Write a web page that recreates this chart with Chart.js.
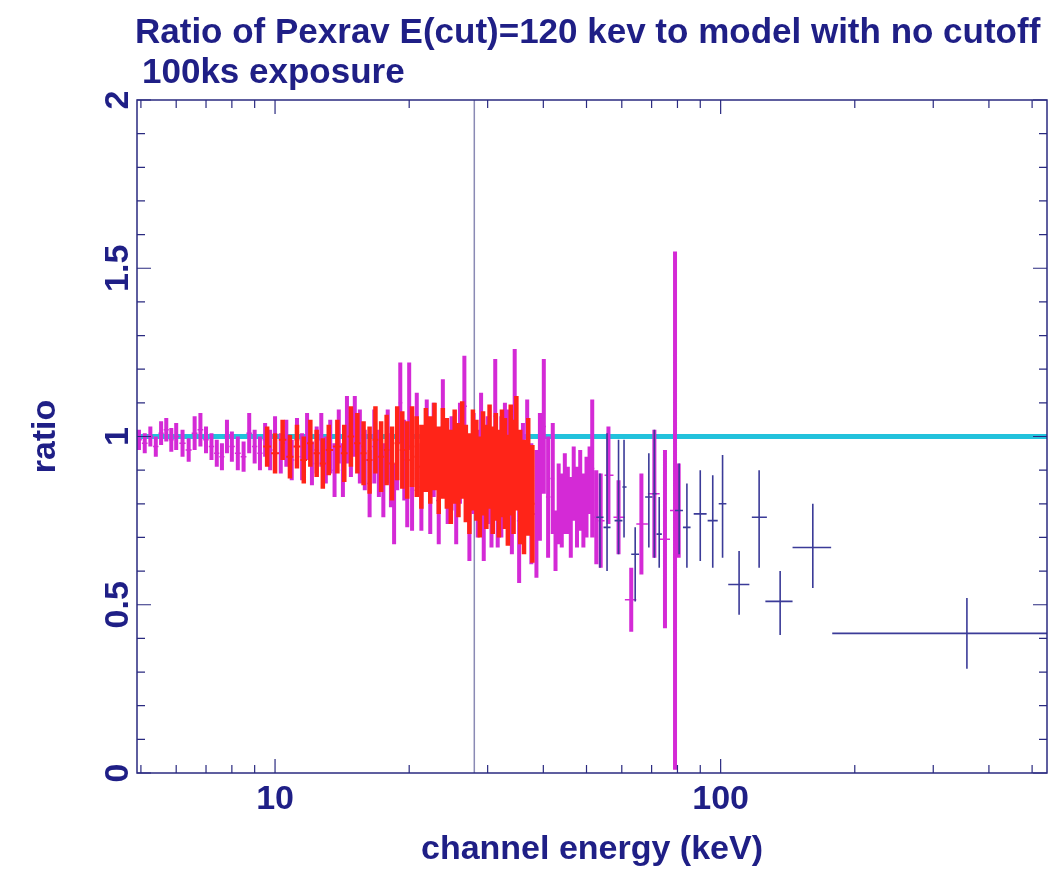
<!DOCTYPE html>
<html>
<head>
<meta charset="utf-8">
<script src="https://cdn.jsdelivr.net/npm/chart.js@4.4.1/dist/chart.umd.min.js"></script>
<style>
  html, body { margin: 0; padding: 0; background: #fff; }
  #wrap { width: 1062px; height: 872px; }
</style>
</head>
<body>
<div id="wrap"><canvas id="grafica" width="1062" height="872"></canvas></div>
<script>
// --- datos ---
const titulo1 = 'Ratio of Pexrav E(cut)=120 kev to model with no cutoff';
const titulo2 = '100ks exposure';

// serie magenta (keV, cociente, error)
const magE = [4.95,5.1,5.25,5.4,5.55,5.7,5.85,6.0,6.2,6.4,6.6,6.8,7.0,7.2,7.4,7.6,7.8,8.0,8.25,8.5,8.75,9.0,9.25,9.5,9.75,10.0,10.3,10.6,10.9,11.2,11.5,11.8,12.1,12.4,12.7,13.0,13.3,13.6,13.9,
  14.2,14.5,14.8,15.1,15.5,15.9,16.3,16.7,17.1,17.5,17.9,18.2,18.5,18.8,19.1,19.5,19.8,20.0,20.3,20.8,21.3,21.9,22.3,22.7,23.3,23.8,24.4,24.9,25.5,26.0,26.6,27.3,27.9,28.5,29.0,29.4,30.0,30.6,31.2,31.6,32.2,32.8,33.4,34.0,34.5,35.3,36.0,36.8,37.6,38.6,39.3,40.1,
  41.0,42.0,42.6,43.3,44.0,44.7,45.4,46.1,46.8,47.6,48.4,49.2,50.0,50.8,51.5,52.6,53.8,56.0,59.0,63.0,66.4,71.0,75.0,79.0,80.5];
const magY = [0.99,0.98,1.00,0.97,1.01,1.02,0.99,1.00,0.98,0.96,1.01,1.02,0.99,0.97,0.95,0.94,1.00,0.97,0.95,0.94,1.01,0.97,0.95,0.99,0.96,1.00,0.95,0.98,0.93,0.99,0.94,1.00,0.92,0.96,0.99,0.93,0.97,0.90,1.00,
  0.90,1.02,0.96,1.03,0.97,0.93,0.86,0.97,0.92,0.87,0.97,0.90,0.80,0.95,1.10,0.93,0.85,1.09,0.84,1.00,0.85,0.98,0.84,0.96,0.81,1.03,0.88,0.92,0.82,0.95,1.09,0.78,0.92,0.86,0.97,0.79,0.90,0.84,1.06,0.84,0.88,0.93,0.91,0.82,1.08,0.75,0.86,0.92,0.80,0.77,0.88,1.03,
  0.82,0.875,0.69,0.80,0.78,0.83,0.81,0.76,0.86,0.79,0.84,0.78,0.82,0.87,0.905,0.76,0.75,0.885,0.76,0.515,0.74,0.83,0.695,0.78,0.78];
const magErr = [0.03,0.03,0.03,0.03,0.035,0.035,0.035,0.04,0.04,0.035,0.05,0.05,0.04,0.04,0.04,0.04,0.05,0.045,0.05,0.045,0.06,0.05,0.05,0.05,0.06,0.06,0.06,0.07,0.06,0.065,0.07,0.07,0.065,0.07,0.08,0.07,0.08,0.08,0.08,
  0.08,0.10,0.08,0.09,0.11,0.09,0.10,0.11,0.10,0.11,0.11,0.11,0.12,0.11,0.12,0.12,0.12,0.13,0.12,0.13,0.13,0.13,0.13,0.14,0.13,0.14,0.14,0.14,0.14,0.15,0.15,0.15,0.15,0.16,0.16,0.16,0.16,0.17,0.17,0.17,0.18,0.17,0.17,0.17,0.18,0.185,0.18,0.19,0.18,0.19,0.19,0.20,
  0.18,0.165,0.09,0.12,0.11,0.12,0.10,0.12,0.11,0.12,0.12,0.11,0.12,0.10,0.205,0.14,0.14,0.145,0.11,0.095,0.15,0.19,0.265,0.77,0.14];

// serie roja (zona densa)
const rojoE = [9.6,10.0,10.4,10.8,11.2,11.6,12.0,12.4,12.8,13.2,13.8,14.3,14.8,15.3,15.8,16.3,16.8,17.3,17.8,18.3,18.8,19.3,19.8,20.3,20.8,21.3,21.8,22.3,22.8,23.3,23.8,24.3,24.8,25.3,25.8,26.3,26.8,27.3,27.8,28.3,28.8,29.3,29.8,30.3,30.8,31.3,31.8,32.3,32.8,33.3,33.8,34.3,34.8,35.5,36.2,37.0,37.8];
const rojoY = [0.97,0.95,0.99,0.94,0.97,0.93,0.98,0.95,0.92,0.96,0.97,0.95,1.00,0.98,0.95,0.93,0.99,0.94,0.96,0.92,0.98,0.96,0.93,0.97,0.94,0.91,0.96,0.93,0.97,0.90,0.95,0.92,0.88,0.94,0.90,0.96,0.89,0.86,0.93,0.90,0.85,0.92,0.88,0.94,0.87,0.91,0.86,0.92,0.89,0.84,0.93,0.88,0.95,0.85,0.82,0.88,0.80];
const rojoErr = [0.06,0.06,0.06,0.065,0.065,0.07,0.07,0.07,0.075,0.075,0.08,0.085,0.09,0.09,0.095,0.10,0.10,0.105,0.105,0.11,0.11,0.115,0.115,0.12,0.12,0.125,0.125,0.13,0.13,0.13,0.135,0.135,0.14,0.14,0.14,0.145,0.145,0.15,0.15,0.15,0.15,0.155,0.155,0.155,0.16,0.16,0.16,0.16,0.165,0.165,0.165,0.17,0.17,0.17,0.17,0.175,0.175];

// serie azul (canales anchos)
const azulE   = [53.6,55.6,59.0,60.7,64.3,69.0,71.0,72.8,80.7,84.0,90.0,96.0,101,110,122,136,161,357];
const azulY   = [0.76,0.73,0.75,0.85,0.65,0.82,0.83,0.71,0.78,0.73,0.77,0.75,0.80,0.56,0.76,0.51,0.67,0.415];
const azulLo  = [0.61,0.60,0.65,0.70,0.51,0.67,0.64,0.61,0.65,0.61,0.63,0.61,0.64,0.47,0.61,0.41,0.55,0.31];
const azulHi  = [0.89,1.01,0.99,0.99,0.73,0.95,1.02,0.82,0.92,0.86,0.90,0.885,0.945,0.66,0.90,0.60,0.80,0.52];
const azulElo = [52.6,54.6,57.8,60.2,63.0,67.7,70.3,71.8,79.0,82.3,87.0,93.5,99.0,104,117.5,126,145,178];
const azulEhi = [54.6,56.6,60.2,61.5,65.6,70.3,71.8,73.8,82.3,85.6,93.0,98.5,103,116,127,145,177,540];

const lineaModelo = [1, 1];
const lineaVertical = 28;

const xRango = [4.9, 540];
const xMarcas = [5,6,7,8,9,10,20,30,40,50,60,70,80,90,100,200,300,400,500];
const xEtiquetas = [10, 100];
const yMarcas = [0,0.1,0.2,0.3,0.4,0.5,0.6,0.7,0.8,0.9,1,1.1,1.2,1.3,1.4,1.5,1.6,1.7,1.8,1.9,2];

const colorTexto = '#1f1f86';
const colorEje = '#2a2a80';

// --- construcción de segmentos ---
function segVerticales(E, lo, hi) {
  const out = [];
  for (let i = 0; i < E.length; i++) {
    out.push({x: E[i], y: lo[i]}, {x: E[i], y: hi[i]}, {x: E[i], y: null});
  }
  return out;
}
function segHorizontales(E1, E2, Y) {
  const out = [];
  for (let i = 0; i < Y.length; i++) {
    out.push({x: E1[i], y: Y[i]}, {x: E2[i], y: Y[i]}, {x: E2[i], y: null});
  }
  return out;
}
function bordesBin(E) {
  // límites a medio camino (geométrico) entre canales vecinos
  const lo = [], hi = [];
  for (let i = 0; i < E.length; i++) {
    const prev = i > 0 ? E[i - 1] : E[i] * E[i] / E[i + 1];
    const next = i < E.length - 1 ? E[i + 1] : E[i] * E[i] / E[i - 1];
    lo.push(Math.sqrt(prev * E[i]));
    hi.push(Math.sqrt(E[i] * next));
  }
  return [lo, hi];
}

const magLo = magY.map((v, i) => v - magErr[i]);
const magHi = magY.map((v, i) => v + magErr[i]);
const [magElo, magEhi] = bordesBin(magE);
const rojoLo = rojoY.map((v, i) => v - rojoErr[i]);
const rojoHi = rojoY.map((v, i) => v + rojoErr[i]);
const [rojoElo, rojoEhi] = bordesBin(rojoE);

function serie(label, data, color, ancho, orden) {
  return { label, data, borderColor: color, borderWidth: ancho, pointRadius: 0, fill: false,
           tension: 0, spanGaps: false, borderCapStyle: 'butt', order: orden };
}

// --- plugins ---
const marcoPlugin = {
  id: 'marco',
  afterDatasetsDraw(chart) {
    const {ctx, chartArea: a, scales: {x, y}} = chart;
    ctx.save();
    ctx.strokeStyle = colorEje;
    ctx.lineWidth = 1.5;
    ctx.strokeRect(a.left, a.top, a.right - a.left, a.bottom - a.top);
    ctx.lineWidth = 1.2;
    ctx.beginPath();
    xMarcas.forEach(v => {
      const px = x.getPixelForValue(v);
      const L = xEtiquetas.includes(v) ? 14 : 8;
      ctx.moveTo(px, a.bottom); ctx.lineTo(px, a.bottom - L);
      ctx.moveTo(px, a.top); ctx.lineTo(px, a.top + L);
    });
    yMarcas.forEach(v => {
      const py = y.getPixelForValue(v);
      const L = Math.abs(v * 2 - Math.round(v * 2)) < 1e-6 ? 14 : 8;
      ctx.moveTo(a.left, py); ctx.lineTo(a.left + L, py);
      ctx.moveTo(a.right, py); ctx.lineTo(a.right - L, py);
    });
    ctx.stroke();
    ctx.restore();
  },
  afterDraw(chart) {
    const ctx = chart.ctx;
    ctx.save();
    ctx.fillStyle = colorTexto;
    ctx.font = 'bold 35px "Liberation Sans", Arial, sans-serif';
    ctx.textBaseline = 'alphabetic';
    ctx.textAlign = 'left';
    ctx.fillText(titulo1, 135, 43);
    ctx.fillText(titulo2, 142, 83);
    ctx.restore();
  }
};

const fuenteEje = { family: '"Liberation Sans", Arial, sans-serif', size: 34, weight: 'bold' };

new Chart(document.getElementById('grafica'), {
  type: 'line',
  data: {
    datasets: [
      serie('azul v', segVerticales(azulE, azulLo, azulHi), '#3b3b98', 1.6, 0),
      serie('azul h', segHorizontales(azulElo, azulEhi, azulY), '#3b3b98', 1.6, 0),
      serie('rojo v', segVerticales(rojoE, rojoLo, rojoHi), '#ff2418', 4.5, 1),
      serie('rojo h', segHorizontales(rojoElo, rojoEhi, rojoY), '#ff2418', 2, 1),
      serie('magenta v', segVerticales(magE, magLo, magHi), '#d42ad6', 4, 2),
      serie('magenta h', segHorizontales(magElo, magEhi, magY), '#d42ad6', 1.5, 2),
      serie('modelo', [{x: xRango[0], y: lineaModelo[0]}, {x: xRango[1], y: lineaModelo[1]}], '#22c2dc', 5, 3),
      serie('vertical', [{x: lineaVertical, y: 0}, {x: lineaVertical, y: 2}], '#8a8ab4', 1.5, 4)
    ]
  },
  options: {
    responsive: false,
    animation: false,
    devicePixelRatio: 1,
    layout: { padding: { top: 100, right: 15, left: 0, bottom: 0 } },
    plugins: { legend: { display: false }, tooltip: { enabled: false } },
    scales: {
      x: {
        type: 'logarithmic',
        min: xRango[0], max: xRango[1],
        grid: { display: false, drawTicks: false },
        border: { display: false },
        afterBuildTicks: s => { s.ticks = xEtiquetas.map(v => ({ value: v })); },
        afterFit: s => { s.height = 99; },
        ticks: { autoSkip: false, maxRotation: 0, padding: 6, color: colorTexto, font: fuenteEje,
                 callback: v => String(v) },
        title: { display: true, text: 'channel energy (keV)', color: colorTexto, font: fuenteEje,
                 padding: { top: 0, bottom: 2 } }
      },
      y: {
        type: 'linear',
        min: 0, max: 2,
        grid: { display: false, drawTicks: false },
        border: { display: false },
        afterFit: s => { s.width = 137; },
        ticks: { stepSize: 0.5, minRotation: 90, maxRotation: 90, crossAlign: 'center', padding: -5,
                 color: colorTexto, font: fuenteEje,
                 callback: v => String(Math.round(v * 10) / 10) },
        title: { display: true, text: 'ratio', color: colorTexto, font: fuenteEje,
                 padding: { top: 25, bottom: 0 } }
      }
    }
  },
  plugins: [marcoPlugin]
});
</script>
</body>
</html>
